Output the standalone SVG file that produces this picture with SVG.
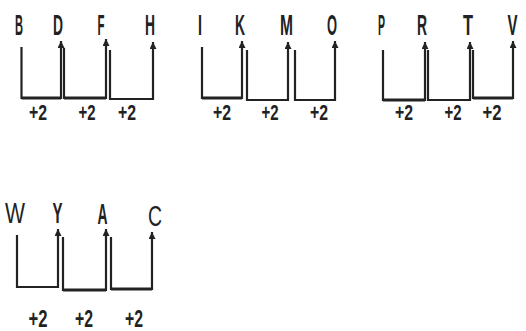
<svg xmlns="http://www.w3.org/2000/svg" width="526" height="331" viewBox="0 0 526 331">
<style>
.lt{font-family:"Liberation Sans",Arial,sans-serif;font-size:30px;font-weight:bold;fill:#222;text-anchor:middle}
.ln{font-family:"Liberation Sans",Arial,sans-serif;font-size:29px;fill:#222;text-anchor:middle}
.lb{font-family:"Liberation Sans",Arial,sans-serif;font-size:22px;font-weight:bold;fill:#222;text-anchor:middle}
.lb2{font-family:"Liberation Sans",Arial,sans-serif;font-size:24px;font-weight:bold;fill:#222;text-anchor:middle}
.c{fill:none;stroke:#222;stroke-width:2.2;marker-end:url(#ah)}
.t{fill:none;stroke:#222;stroke-width:3.2}
</style>
<defs>
<marker id="ah" viewBox="0 0 10 10" refX="10" refY="5" markerWidth="10" markerHeight="7" markerUnits="userSpaceOnUse" orient="auto">
<path d="M0 0 L10 5 L0 10 z" fill="#222"/>
</marker>
</defs>
<rect width="526" height="331" fill="#fff"/>
<g id="nodes">
<g id="n-B"><text class="lt" x="19" y="35" textLength="8" lengthAdjust="spacingAndGlyphs">B</text></g>
<g id="n-D"><text class="lt" x="58" y="35" textLength="10" lengthAdjust="spacingAndGlyphs">D</text></g>
<g id="n-F"><text class="lt" x="101" y="35" textLength="7" lengthAdjust="spacingAndGlyphs">F</text></g>
<g id="n-H"><text class="lt" x="150" y="35" textLength="10" lengthAdjust="spacingAndGlyphs">H</text></g>
<g id="n-I"><text class="lt" x="200" y="35" textLength="4" lengthAdjust="spacingAndGlyphs">I</text></g>
<g id="n-K"><text class="lt" x="240" y="35" textLength="10" lengthAdjust="spacingAndGlyphs">K</text></g>
<g id="n-M"><text class="lt" x="286.5" y="35" textLength="13" lengthAdjust="spacingAndGlyphs">M</text></g>
<g id="n-O"><text class="lt" x="332" y="35" textLength="10" lengthAdjust="spacingAndGlyphs">O</text></g>
<g id="n-P"><text class="lt" x="381.5" y="35" textLength="7" lengthAdjust="spacingAndGlyphs">P</text></g>
<g id="n-R"><text class="lt" x="422" y="35" textLength="10" lengthAdjust="spacingAndGlyphs">R</text></g>
<g id="n-T"><text class="lt" x="468" y="35" textLength="10" lengthAdjust="spacingAndGlyphs">T</text></g>
<g id="n-V"><text class="lt" x="512.5" y="35" textLength="10" lengthAdjust="spacingAndGlyphs">V</text></g>
<g id="n-W"><text class="ln" x="15" y="223" textLength="20" lengthAdjust="spacingAndGlyphs">W</text></g>
<g id="n-Y"><text class="lt" x="57.5" y="223" textLength="10" lengthAdjust="spacingAndGlyphs">Y</text></g>
<g id="n-A"><text class="lt" x="102.5" y="224" textLength="10" lengthAdjust="spacingAndGlyphs">A</text></g>
<g id="n-C"><text class="ln" x="155" y="226" textLength="14" lengthAdjust="spacingAndGlyphs">C</text></g>
</g>
<g id="connectors">
<path class="c" d="M21.5 47 V98 H61 V41"/>
<path class="t" d="M21.5 98 H61"/>
<path class="c" d="M64 48 V98 H106 V39"/>
<path class="t" d="M64 98 H106"/>
<path class="c" d="M110 50 V99 H153 V42"/>
<path class="c" d="M202 47 V98 H242 V41"/>
<path class="t" d="M202 98 H242"/>
<path class="c" d="M247 50 V100 H288 V42"/>
<path class="c" d="M295 50 V100 H335 V41"/>
<path class="c" d="M383 50 V100 H425 V42"/>
<path class="t" d="M383 100 H425"/>
<path class="c" d="M428 50 V100 H470 V42"/>
<path class="c" d="M473 50 V98 H513 V41"/>
<path class="t" d="M473 98 H513"/>
<path class="c" d="M17 235 V287 H58 V229"/>
<path class="c" d="M63 237 V290 H106 V229"/>
<path class="t" d="M63 290 H106"/>
<path class="c" d="M111 237 V289 H152 V232"/>
<path class="t" d="M111 289 H152"/>
<text class="lb" x="38" y="120" textLength="18" lengthAdjust="spacingAndGlyphs">+2</text>
<text class="lb" x="87" y="120" textLength="17" lengthAdjust="spacingAndGlyphs">+2</text>
<text class="lb" x="127" y="120" textLength="18" lengthAdjust="spacingAndGlyphs">+2</text>
<text class="lb" x="222" y="120" textLength="18" lengthAdjust="spacingAndGlyphs">+2</text>
<text class="lb" x="270" y="120" textLength="17" lengthAdjust="spacingAndGlyphs">+2</text>
<text class="lb" x="319" y="120" textLength="18" lengthAdjust="spacingAndGlyphs">+2</text>
<text class="lb" x="404" y="120" textLength="18" lengthAdjust="spacingAndGlyphs">+2</text>
<text class="lb" x="453" y="120" textLength="17" lengthAdjust="spacingAndGlyphs">+2</text>
<text class="lb" x="492" y="120" textLength="19" lengthAdjust="spacingAndGlyphs">+2</text>
<text class="lb2" x="38" y="327" textLength="19" lengthAdjust="spacingAndGlyphs">+2</text>
<text class="lb2" x="84" y="327" textLength="18" lengthAdjust="spacingAndGlyphs">+2</text>
<text class="lb2" x="134" y="327" textLength="18" lengthAdjust="spacingAndGlyphs">+2</text>
</g>
</svg>
